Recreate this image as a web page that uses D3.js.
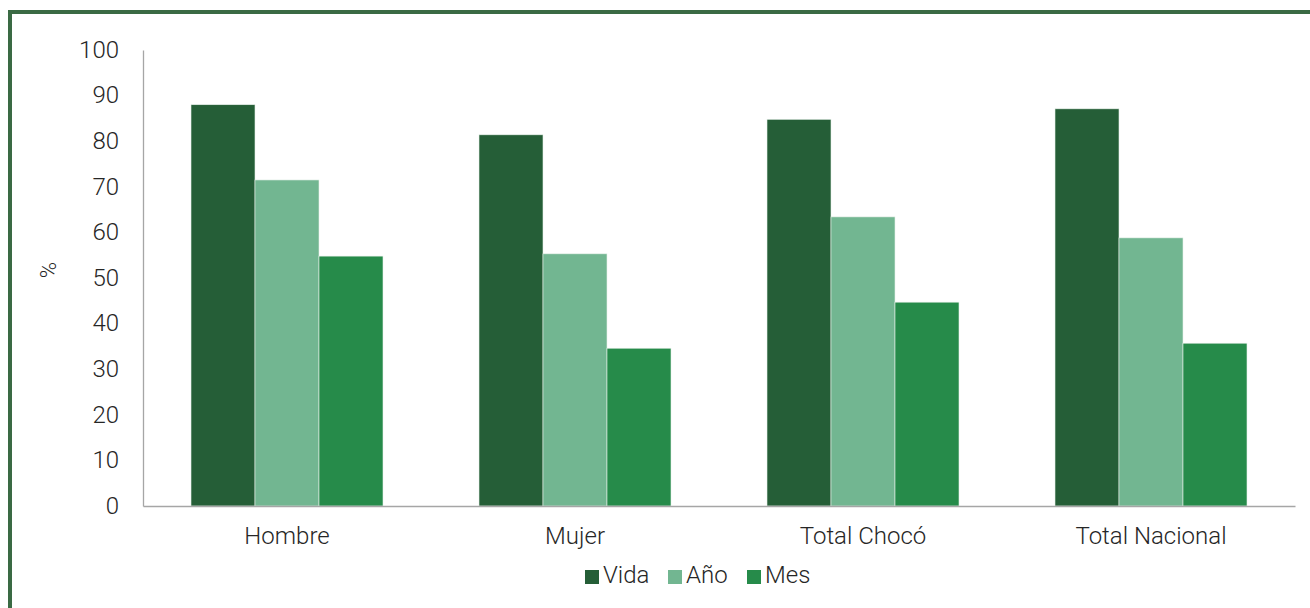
<!DOCTYPE html>
<html><head><meta charset="utf-8">
<script src="https://d3js.org/d3.v7.min.js"></script>
<style>
body{margin:0;background:#fff;}
svg{display:block;font-family:Roboto,"Liberation Sans",sans-serif;}
</style></head>
<body>
<svg id="c" width="1310" height="608"></svg>
<script>
const categories = ["Hombre","Mujer","Total Chocó","Total Nacional"];
const seriesNames = ["Vida","Año","Mes"];
const vida = [88.0, 81.4, 84.8, 87.1];
const anio = [71.5, 55.3, 63.4, 58.8];
const mes  = [54.8, 34.6, 44.7, 35.7];
const yTicks = [0,10,20,30,40,50,60,70,80,90,100];
const colors = ["#255e37","#72b691","#268b4a"];

(function(){
const values = [vida, anio, mes];
const svg = d3.select("#c");
const FS = 24;

// outer frame
svg.append("rect").attr("x",10).attr("y",12).attr("width",1320).attr("height",620)
  .attr("fill","none").attr("stroke","#3a6a44").attr("stroke-width",4);

const pLeft=143, pRight=1295, pTop=50, pBottom=506;
const x0 = d3.scaleBand().domain(categories).range([pLeft,pRight]).paddingInner(1/3).paddingOuter(1/6);
const x1 = d3.scaleBand().domain(seriesNames).range([0,x0.bandwidth()]);
const y = d3.scaleLinear().domain([0,100]).range([pBottom,pTop]);

// y axis labels
const ya = svg.append("g").attr("transform",`translate(${pLeft},0)`)
  .call(d3.axisLeft(y).tickValues(yTicks).tickSize(0).tickPadding(24));
ya.select(".domain").attr("stroke","#a6a6a6").attr("stroke-width",1.3);
ya.selectAll("text").attr("font-size",FS).attr("font-weight",300).attr("fill","#262626")
  .attr("font-family","Roboto, sans-serif").attr("dy","0.3em");

// bars
categories.forEach((c,i)=>{
  seriesNames.forEach((s,j)=>{
    svg.append("rect")
      .attr("x",x0(c)+x1(s)).attr("y",y(values[j][i]))
      .attr("width",x1.bandwidth()).attr("height",y(0)-y(values[j][i]))
      .attr("fill",colors[j]).attr("stroke","#e8f0ea").attr("stroke-width",0.6);
  });
});

// x axis
const xa = svg.append("g").attr("transform",`translate(0,${pBottom})`)
  .call(d3.axisBottom(x0).tickSize(0).tickPadding(21));
xa.select(".domain").attr("stroke","#a6a6a6").attr("stroke-width",1.3);
xa.selectAll("text").attr("font-size",FS).attr("font-weight",300).attr("fill","#262626")
  .attr("font-family","Roboto, sans-serif");

// y title
svg.append("text").attr("transform","translate(56,270) rotate(-90)")
  .attr("text-anchor","middle").attr("font-size",22).attr("font-weight",300)
  .attr("fill","#262626").text("%");

// legend
const legendX = [585, 668, 747];
seriesNames.forEach((s,j)=>{
  const g = svg.append("g").attr("transform",`translate(${legendX[j]},583)`);
  g.append("rect").attr("x",0).attr("y",-13).attr("width",14).attr("height",14).attr("fill",colors[j]);
  g.append("text").attr("x",18).attr("y",0).attr("font-size",FS).attr("font-weight",300)
    .attr("fill","#262626").text(s);
});
})();
</script>
</body></html>
